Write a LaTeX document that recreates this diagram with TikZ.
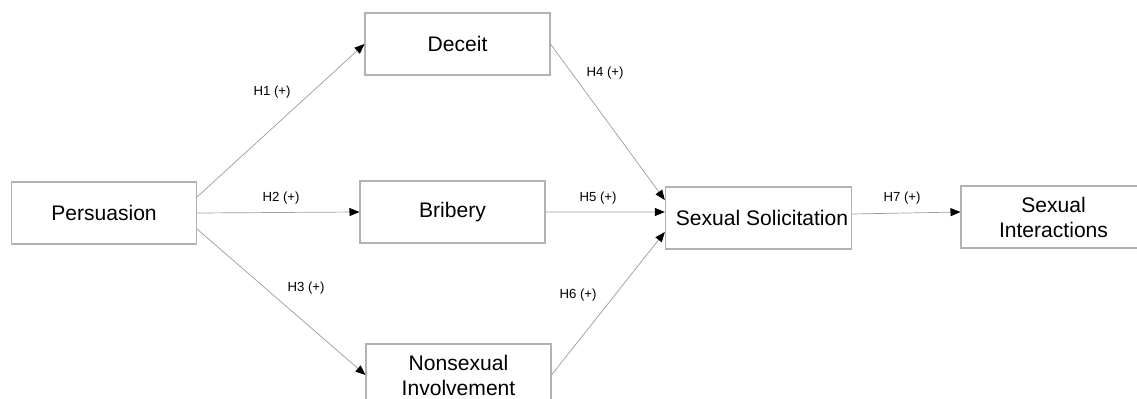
\documentclass[tikz,border=0pt]{standalone}
\usepackage{fontspec}
\setmainfont{Liberation Sans}
\usetikzlibrary{arrows.meta,positioning}
\definecolor{mdlLine}{HTML}{9c9c9c}
\definecolor{mdlBox}{HTML}{b2b2b2}
\tikzset{
  >={Triangle[length=2mm,width=1.6mm,color=black]},
  construct/.style={draw=mdlBox, line width=0.6pt, fill=white,
              minimum width=3.7cm, minimum height=1.24cm,
              align=center, inner sep=2pt, font=\fontsize{12}{14.2}\selectfont},
  hyp/.style={font=\fontsize{7.5}{9}\selectfont, inner sep=1pt},
  link/.style={->, draw=mdlLine, line width=0.4pt},
}

\begin{document}
\begin{tikzpicture}[x=0.02cm,y=-0.02cm]
  \useasboundingbox (0,0) rectangle (1137,399);
  % constructs
  \node[construct] (pers) at (104,213) {Persuasion};
  \node[construct] (dec) at (457.5,44) {Deceit};
  \node[construct] (bri) at (452.5,212) {Bribery};
  \node[construct] (inv) at (458.5,375) {Nonsexual\\Involvement};
  \node[construct] (sol) at (758.5,218) {\hspace*{4pt}Sexual Solicitation};
  \node[construct] (int) at (1053.5,217) {Sexual\\Interactions};
  % hypothesised paths
  \draw[link] ([yshift=0.32cm]pers.east) -- (dec.west);
  \draw[link] (pers.east) -- (bri.west);
  \draw[link] ([yshift=-0.32cm]pers.east) -- (inv.west);
  \draw[link] (dec.east) -- ([yshift=0.36cm]sol.west);
  \draw[link] (bri.east) -- ([yshift=0.12cm]sol.west);
  \draw[link] (inv.east) -- ([yshift=-0.28cm]sol.west);
  \draw[link] ([yshift=0.08cm]sol.east) -- ([yshift=0.1cm]int.west);
  % labels
  \node[hyp] (h1) at (272,92) {H1 (+)};
  \node[hyp] (h2) at (281,198) {H2 (+)};
  \node[hyp] (h3) at (306,288) {H3 (+)};
  \node[hyp] (h4) at (605,73) {H4 (+)};
  \node[hyp] (h5) at (598,198) {H5 (+)};
  \node[hyp] (h6) at (578,295) {H6 (+)};
  \node[hyp] (h7) at (902,198) {H7 (+)};
\end{tikzpicture}
\end{document}
